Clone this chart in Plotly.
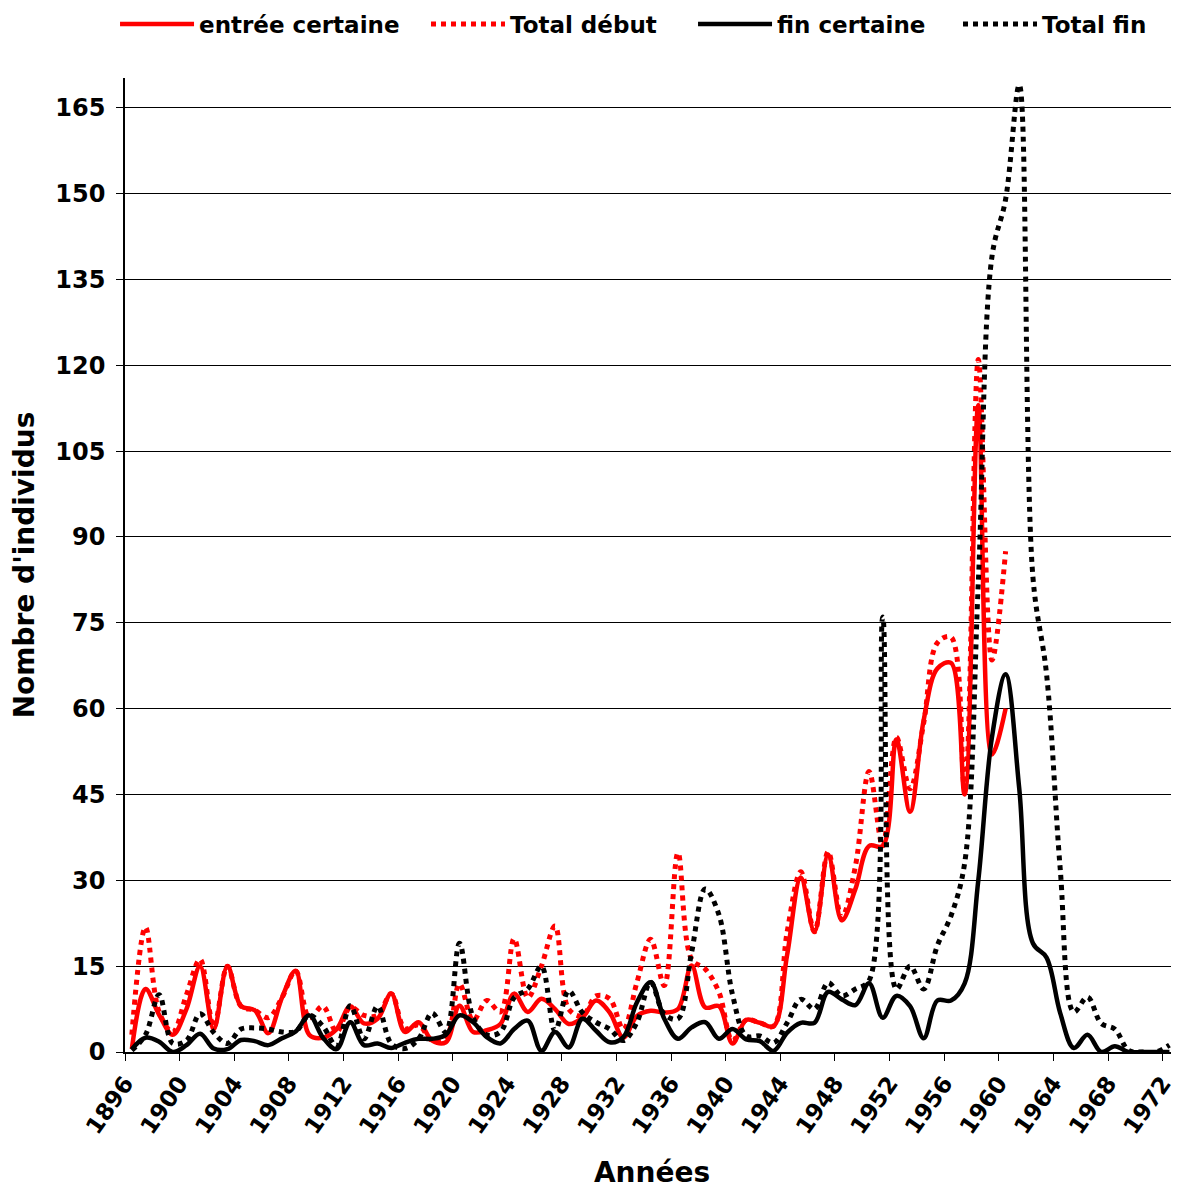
import plotly.graph_objects as go

# ---- data ----
years_debut = list(range(1896, 1961))
years_fin = list(range(1896, 1973))

entree_certaine = [
    0.5, 11, 6.5, 3, 7.5, 15, 4, 15, 8, 7.3,
    3.3, 9.5, 14.2, 3, 2.5, 4, 8, 5, 5.8, 10.2,
    3.5, 5.2, 2, 1.7, 8.1, 3.5, 3.8, 4.9, 10.2, 7,
    9.3, 7.5, 4.9, 6, 9, 6.9, 2.5, 6.3, 7.2, 6.9,
    7.5, 15.1, 7.8, 8, 1.5, 5.6, 5.1, 4.5, 17, 30.5,
    21, 34.5, 23, 28.5, 36, 36, 54.6, 42, 58, 67,
    68, 45, 113, 52, 60]

total_debut = [
    3, 21.8, 7, 3.5, 10, 16.2, 4.4, 15, 8, 7.3,
    6, 9.5, 14.2, 6, 8, 3.5, 7.8, 6.4, 6.4, 10.2,
    4.1, 4.7, 2, 2.3, 11.9, 5.5, 9, 7, 19.8, 9.5,
    15, 22, 7.5, 6.3, 9.8, 9.3, 4, 12.2, 19.7, 11.6,
    34.8, 16.2, 14.5, 10.5, 2, 5.6, 5.1, 4.5, 21, 31.5,
    21, 35, 23.5, 32.5, 49, 36, 55, 46, 57.5, 71.5,
    72.5, 46, 121, 68.5, 87.5]

fin_certaine = [
    0.5, 2.5, 1.8, 0, 1.2, 3.2, 0.6, 0.5, 2.1, 1.9,
    1.2, 2.4, 3.6, 6.4, 2.5, 0.5, 5.2, 1.2, 1.5, 0.7,
    1.6, 2.3, 2.3, 3, 6.4, 5.2, 2.6, 1.5, 4, 5.5,
    0.2, 3.5, 0.8, 5.8, 3.7, 1.7, 2.6, 8.7, 12.2, 5.8,
    2.3, 4.3, 5.2, 2.3, 4, 2.2, 1.9, 0.2, 3.4, 5.1,
    5.1, 10.5, 9.2, 8.2, 12, 6, 9.8, 8, 2.4, 9,
    9, 12, 30, 55, 66, 46, 19, 16.5, 6.8, 0.7,
    3, 0, 1, 0, 0, 0, 0]

total_fin = [
    0.3, 3, 10, 1.5, 2, 6.7, 3.4, 1.5, 4, 4.2,
    4, 3.5, 3.6, 6.4, 4.5, 1, 8.1, 2.3, 8, 1.5,
    0.6, 2.3, 6.8, 3.5, 19, 6, 3, 3.5, 9.5, 11,
    15, 3.7, 10.7, 6.9, 5.2, 4, 2, 5.2, 12.2, 6.6,
    5.8, 17.4, 28.5, 24, 10, 2.8, 2.8, 1.6, 5.1, 9.2,
    7.5, 12.1, 9.8, 11, 12.5, 76, 11, 15, 11, 18.6,
    23.8, 33, 82, 139, 149, 169, 83, 66, 32, 7,
    9.6, 5, 4, 0.3, 0, 0, 1.2]

tick_years = list(range(1896, 1973, 4))
y_ticks = list(range(0, 166, 15))

# each yearly value sits in the middle of its year slot
x_debut = [y + 0.5 for y in years_debut]
x_fin = [y + 0.5 for y in years_fin]

FONT = "DejaVu Sans"

fig = go.Figure()
fig.add_trace(go.Scatter(x=x_debut, y=entree_certaine, mode="lines", name="entrée certaine",
                         legendwidth=222,
                         line=dict(color="#ff0000", width=4.5, shape="spline", smoothing=1)))
fig.add_trace(go.Scatter(x=x_debut, y=total_debut, mode="lines", name="Total début",
                         legendwidth=178,
                         line=dict(color="#ff0000", width=5, dash="5px,5px", shape="spline", smoothing=1)))
fig.add_trace(go.Scatter(x=x_fin, y=fin_certaine, mode="lines", name="fin certaine",
                         legendwidth=176,
                         line=dict(color="#000000", width=4.5, shape="spline", smoothing=1)))
fig.add_trace(go.Scatter(x=x_fin, y=total_fin, mode="lines", name="Total fin",
                         line=dict(color="#000000", width=5, dash="5px,5px", shape="spline", smoothing=1)))

# the page body adds an 8px offset, so the figure is 8px smaller than the window
fig.update_layout(
    width=1171, height=1181,
    margin=dict(l=117, r=0, t=70, b=137),
    paper_bgcolor="white", plot_bgcolor="white",
    showlegend=True,
    legend=dict(orientation="h", xref="container", yref="container",
                x=0.0914, xanchor="left", y=0.9865, yanchor="middle",
                font=dict(family=FONT, size=23, color="black", weight="bold"),
                bgcolor="rgba(0,0,0,0)", itemwidth=74),
)
fig.update_xaxes(
    range=[1896, 1973.2], tickmode="array", tickvals=tick_years,
    ticktext=[str(t) for t in tick_years], tickangle=-55,
    ticks="outside", ticklen=7, tickcolor="black", tickwidth=1,
    showline=True, linecolor="black", linewidth=1.5,
    showgrid=False, zeroline=False, automargin=False,
    tickfont=dict(family=FONT, size=23, color="black", weight="bold"),
    title=dict(text="Années", font=dict(family=FONT, size=28, color="black", weight="bold"), standoff=30),
)
fig.update_yaxes(
    range=[0, 170.2], tickmode="array", tickvals=y_ticks,
    ticks="outside", ticklen=7, tickcolor="black", tickwidth=1,
    showline=True, linecolor="black", linewidth=1.5,
    showgrid=True, gridcolor="black", gridwidth=1, zeroline=False, automargin=False,
    ticklabelstandoff=6,
    tickfont=dict(family=FONT, size=24, color="black", weight="bold"),
    title=dict(text="Nombre d'individus", font=dict(family=FONT, size=28, color="black", weight="bold"), standoff=16),
)

fig.write_html("out.html")
